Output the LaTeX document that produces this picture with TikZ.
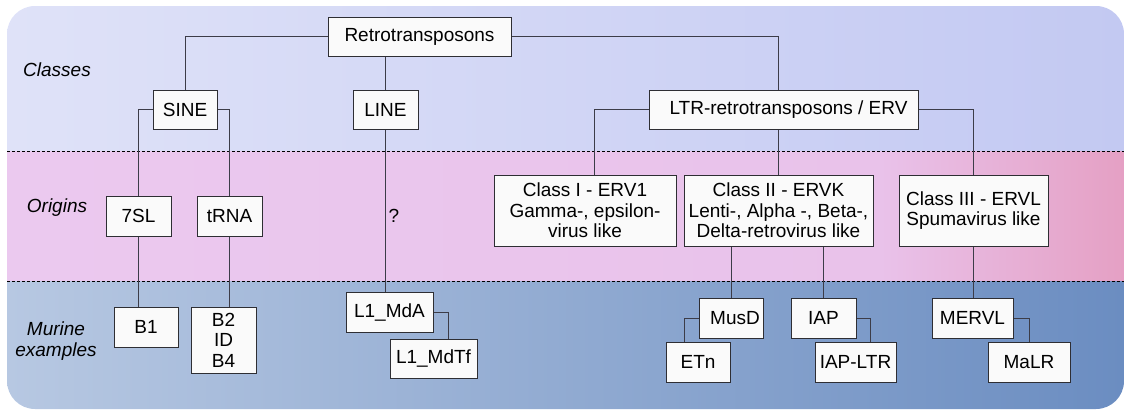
\documentclass[tikz,border=0pt]{standalone}
\usepackage{fontspec}
\setmainfont{Liberation Sans}
\usepackage{tikz}
\definecolor{boxline}{HTML}{2E2E33}
\definecolor{boxfill}{HTML}{FAFAFA}
\definecolor{linkcol}{HTML}{3C3C48}
\definecolor{classesL}{HTML}{DFE2F8}
\definecolor{classesR}{HTML}{C3C9F2}
\definecolor{originsL}{HTML}{EBC9EF}
\definecolor{originsM}{HTML}{E9C2EA}
\definecolor{originsR}{HTML}{E5A0C4}
\definecolor{murineL}{HTML}{B7C8E2}
\definecolor{murineR}{HTML}{6B8DC1}
\tikzset{
	every block/.style={draw=boxline, fill=boxfill, line width=1pt, inner sep=0pt,
		align=center, font={\fontsize{19}{20.5}\selectfont}},
	every link/.style={draw=linkcol, line width=1pt},
	every band/.style={align=center, font={\fontsize{19}{21}\selectfont\itshape}},
}

\begin{document}
\begin{tikzpicture}[x=1pt, y=-1pt]
		\useasboundingbox (0,0) rectangle (1125,410);
		% background bands
		\begin{scope}
			\clip [rounded corners=28pt] (7,6) rectangle (1124,409);
			\shade [left color=classesL, right color=classesR] (7,6) rectangle (1124,151);
			\shade [left color=originsL, right color=originsM] (7,151) rectangle (880,281);
			\shade [left color=originsM, right color=originsR] (880,151) rectangle (1124,281);
			\shade [left color=murineL, right color=murineR] (7,281) rectangle (1124,409);
		\end{scope}
		\foreach \y in {151,281} {
			\draw [black, line width=0.8pt, dash pattern=on 3pt off 2pt] (7,\y) -- (1124,\y);
		};
		% band labels
		\node [every band/.try] (classes) at (57,70) {Classes};
		\node [every band/.try] (origins) at (57,208) {Origins};
		\node [every band/.try] (murine) at (56,341) {Murine\\examples};

		% classes
		\node [every block/.try, minimum width=183pt, minimum height=39pt] (retro) at (419.5,36.5) {Retrotransposons};
		\node [every block/.try, minimum width=64pt, minimum height=39pt] (sine) at (185,109.5) {SINE};
		\node [every block/.try, minimum width=65pt, minimum height=39pt] (line) at (385.5,109.5) {LINE};
		\node [every block/.try, minimum width=269pt, minimum height=39pt] (ltr) at (783.5,109.5) {\hspace{10pt}LTR-retrotransposons / ERV};

		% origins
		\node [every block/.try, minimum width=65pt, minimum height=40pt] (sevensl) at (138.5,216) {7SL};
		\node [every block/.try, minimum width=65pt, minimum height=40pt] (trna) at (229.5,216) {tRNA};
		\node [font={\fontsize{19}{21}\selectfont}, inner sep=0pt] (unknown) at (394,216) {?};
		\node [every block/.try, minimum width=182pt, minimum height=71pt] (classI) at (585,210.5) {Class I - ERV1\\Gamma-, epsilon-\\virus like};
		\node [every block/.try, minimum width=189pt, minimum height=71pt] (classII) at (778.5,210.5) {Class II - ERVK\\Lenti-, Alpha -, Beta-,\\Delta-retrovirus like};
		\node [every block/.try, minimum width=149pt, minimum height=71pt] (classIII) at (973.5,210.5) {Class III - ERVL\\Spumavirus like};

		% murine examples
		\node [every block/.try, minimum width=64pt, minimum height=40pt] (b1) at (146,327) {B1};
		\node [every block/.try, minimum width=65pt, minimum height=66pt] (b2) at (223.5,340) {B2\\ID\\B4};
		\node [every block/.try, minimum width=87pt, minimum height=40pt] (l1mda) at (389.5,312) {L1\_MdA};
		\node [every block/.try, minimum width=87pt, minimum height=39pt] (l1mdtf) at (433.5,358.5) {L1\_MdTf};
		\node [every block/.try, minimum width=64pt, minimum height=40pt] (musd) at (731,318) {\hspace{8pt}MusD};
		\node [every block/.try, minimum width=64pt, minimum height=40pt] (etn) at (698,362) {ETn};
		\node [every block/.try, minimum width=65pt, minimum height=40pt] (iap) at (823.5,318) {IAP};
		\node [every block/.try, minimum width=81pt, minimum height=40pt] (iapltr) at (855.5,362) {IAP-LTR};
		\node [every block/.try, minimum width=81pt, minimum height=40pt] (mervl) at (972.5,318) {MERVL};
		\node [every block/.try, minimum width=82pt, minimum height=40pt] (malr) at (1029,362) {MaLR};

		% links
		\draw [every link/.try] (retro.west) -| (sine.north);
		\draw [every link/.try] (retro.south -| line.north) -- (line.north);
		\draw [every link/.try] (retro.east) -| (classII.north |- ltr.north);
		\draw [every link/.try] (sine.west) -| (sevensl.north);
		\draw [every link/.try] (sine.east) -| (trna.north);
		\draw [every link/.try] (ltr.west) -| ([xshift=9pt]classI.north);
		\draw [every link/.try] (ltr.south -| classII.north) -- (classII.north);
		\draw [every link/.try] (ltr.east) -| (classIII.north);
		\draw [every link/.try] (sevensl.south) -- (sevensl.south |- b1.north);
		\draw [every link/.try] (trna.south) -- (trna.south |- b2.north);
		\draw [every link/.try] (line.south) -- (line.south |- l1mda.north);
		\draw [every link/.try] (l1mda.east) -| ([xshift=14.5pt]l1mdtf.north);
		\draw [every link/.try] (classII.south -| musd.north) -- (musd.north);
		\draw [every link/.try] (classII.south -| iap.north) -- (iap.north);
		\draw [every link/.try] (classIII.south) -- (classIII.south |- mervl.north);
		\draw [every link/.try] (musd.west) -| ([xshift=-14pt]etn.north);
		\draw [every link/.try] (iap.east) -| ([xshift=14.5pt]iapltr.north);
		\draw [every link/.try] (mervl.east) -| (malr.north);

	\end{tikzpicture}
\end{document}
